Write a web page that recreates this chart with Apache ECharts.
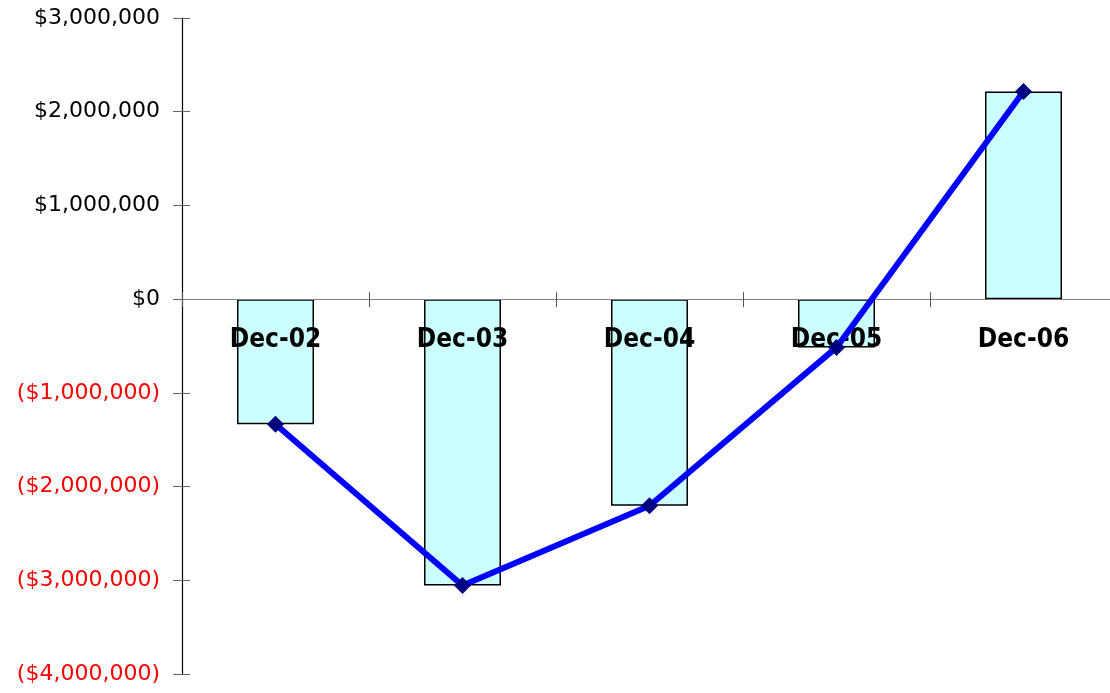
<!DOCTYPE html>
<html>
<head>
<meta charset="utf-8">
<script src="https://cdn.jsdelivr.net/npm/echarts@6/dist/echarts.min.js"></script>
<style>
  html, body { margin: 0; padding: 0; background: #fff; }
  #chart { width: 1110px; height: 693px; }
</style>
</head>
<body>
<div id="chart"></div>
<script>
// 数据
const categories = ['Dec-02', 'Dec-03', 'Dec-04', 'Dec-05', 'Dec-06']
const barValues = [-1335000, -3055000, -2205000, -515000, 2215000]
const lineValues = [-1335000, -3055000, -2205000, -515000, 2215000]
const yTicks = { min: -4000000, max: 3000000, step: 1000000 }

const fmtMoney = (v) => {
  const s = '$' + Math.abs(v).toLocaleString('en-US')
  return v < 0 ? '(' + s + ')' : s
}

const chart = echarts.init(document.getElementById('chart'))

// 把 x 轴移到 0 的位置
const gridTop = 18
const gridBottom = 19
const plotH = 693 - gridTop - gridBottom
const zeroOffset = -plotH * (0 - yTicks.min) / (yTicks.max - yTicks.min)

const option = {
  animation: false,
  grid: { left: 182, right: -7, top: gridTop, bottom: gridBottom, outerBoundsMode: 'none', containLabel: false },
  xAxis: [
    {
      type: 'category',
      data: categories,
      position: 'bottom',
      offset: zeroOffset,
      z: 3,
      axisLine: { onZero: false, lineStyle: { color: '#808080', width: 1 } },
      axisTick: { show: true, inside: false, length: 8, lineStyle: { color: '#555' } },
      axisLabel: {
        margin: 28,
        fontFamily: '"DejaVu Sans Condensed", "DejaVu Sans", sans-serif',
        fontWeight: 'bold',
        fontSize: 26,
        color: '#000'
      },
      splitLine: { show: false }
    },
    {
      type: 'category',
      data: categories,
      position: 'bottom',
      offset: zeroOffset,
      axisLine: { show: false, onZero: false },
      axisTick: { show: true, inside: true, length: 7, lineStyle: { color: '#555' } },
      axisLabel: { show: false },
      splitLine: { show: false }
    }
  ],
  yAxis: [
    {
      type: 'value',
      min: yTicks.min,
      max: yTicks.max,
      interval: yTicks.step,
      axisLine: { show: true, lineStyle: { color: '#000', width: 1.2 } },
      axisTick: { show: true, length: 9, lineStyle: { color: '#666' } },
      axisLabel: {
        margin: 22,
        fontFamily: '"DejaVu Sans", sans-serif',
        fontSize: 22,
        formatter: fmtMoney,
        color: (v) => (Number(v) < 0 ? '#ff0000' : '#000000')
      },
      splitLine: { show: false }
    },
    {
      type: 'value',
      position: 'left',
      min: yTicks.min,
      max: yTicks.max,
      interval: yTicks.step,
      axisLine: { show: false },
      axisTick: { show: true, inside: true, length: 8, lineStyle: { color: '#666' } },
      axisLabel: { show: false },
      splitLine: { show: false }
    }
  ],
  series: [
    {
      type: 'bar',
      data: barValues,
      barWidth: 77,
      z: 2,
      itemStyle: { color: '#ccffff', borderColor: '#000', borderWidth: 1.5 }
    },
    {
      type: 'line',
      data: lineValues,
      z: 5,
      symbol: 'diamond',
      symbolSize: 17,
      lineStyle: { color: '#0000ff', width: 6 },
      itemStyle: { color: '#000080' }
    }
  ]
}

chart.setOption(option)
</script>
</body>
</html>
